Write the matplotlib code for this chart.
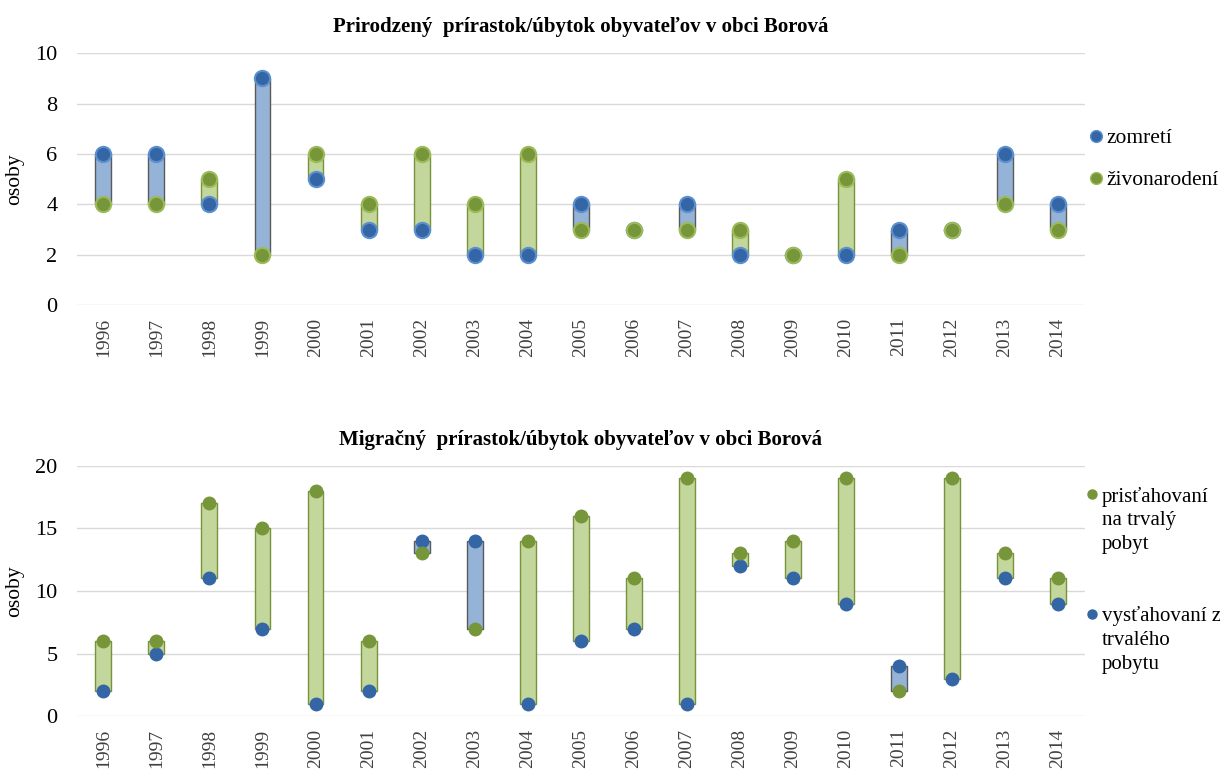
import numpy as np
import matplotlib
matplotlib.use("Agg")
import matplotlib.pyplot as plt
from matplotlib.lines import Line2D

plt.rcParams['font.family'] = ['Liberation Serif', 'DejaVu Serif']

years = [str(y) for y in range(1996, 2015)]

# natural change
zomreti = [6, 6, 4, 9, 5, 3, 3, 2, 2, 4, 3, 4, 2, 2, 2, 3, 3, 6, 4]
zivonarodeni = [4, 4, 5, 2, 6, 4, 6, 4, 6, 3, 3, 3, 3, 2, 5, 2, 3, 4, 3]

# migration
vystahovani = [2, 5, 11, 7, 1, 2, 14, 14, 1, 6, 7, 1, 12, 11, 9, 4, 3, 11, 9]
pristahovani = [6, 6, 17, 15, 18, 6, 13, 7, 14, 16, 11, 19, 13, 14, 19, 2, 19, 13, 11]

labels_top = ['zomretí', 'živonarodení']
labels_bottom = ['prisťahovaní\nna trvalý\npobyt', 'vysťahovaní z\ntrvalého\npobytu']

BLUE_BAR = '#95b3d7'
GREEN_BAR = '#c3d69b'
BLUE_DOT = '#3466a6'
GREEN_DOT = '#77963a'


def draw_panel(ax, blue, green, ymax, step, title, msize, ring):
    x = np.arange(len(years))
    blue = np.array(blue)
    green = np.array(green)
    lo = np.minimum(blue, green)
    hi = np.maximum(blue, green)
    up = green >= blue
    for i in range(len(x)):
        if hi[i] == lo[i]:
            ax.plot([x[i] - 0.15, x[i] + 0.15], [lo[i], lo[i]], color='#595959', lw=1, zorder=2)
            continue
        if up[i]:
            ax.bar(x[i], hi[i] - lo[i], bottom=lo[i], width=0.3, color=GREEN_BAR,
                   edgecolor='#77933c', linewidth=1, zorder=2)
        else:
            ax.bar(x[i], hi[i] - lo[i], bottom=lo[i], width=0.3, color=BLUE_BAR,
                   edgecolor='#5a5a5a', linewidth=1, zorder=2)
    if ring:
        ax.plot(x, blue, 'o', ms=msize, color=BLUE_DOT, mec='#5b8fd0', mew=1.5, zorder=3)
        ax.plot(x, green, 'o', ms=msize, color=GREEN_DOT, mec='#9bbb59', mew=1.5, zorder=3)
    else:
        ax.plot(x, blue, 'o', ms=msize, color=BLUE_DOT, mec=BLUE_DOT, zorder=3)
        ax.plot(x, green, 'o', ms=msize, color=GREEN_DOT, mec=GREEN_DOT, zorder=3)

    ax.set_xlim(-0.5, len(x) - 0.5)
    ax.set_ylim(0, ymax)
    ax.set_yticks(np.arange(0, ymax + 1, step))
    ax.set_xticks(x)
    ax.set_xticklabels(years, rotation=90, fontsize=14, color='#404040')
    ax.tick_params(axis='y', labelsize=16, length=0, pad=14)
    ax.tick_params(axis='x', length=0, pad=9)
    ax.grid(axis='y', color='#d9d9d9', lw=1)
    ax.set_axisbelow(True)
    for s in ax.spines.values():
        s.set_visible(False)
    ax.set_ylabel('osoby', fontsize=15.5, labelpad=8)
    ax.set_title(title, fontsize=15, fontweight='bold', pad=15)


fig = plt.figure(figsize=(12.2, 7.71), dpi=100)
ax1 = fig.add_axes([0.063, 0.604, 0.826, 0.327])
ax2 = fig.add_axes([0.063, 0.071, 0.826, 0.325])

draw_panel(ax1, zomreti, zivonarodeni, 10, 2,
           'Prirodzený  prírastok/úbytok obyvateľov v obci Borová', 11, True)
draw_panel(ax2, vystahovani, pristahovani, 20, 5,
           'Migračný  prírastok/úbytok obyvateľov v obci Borová', 9, False)

# legends drawn by hand so the dot sits on the first text line
W, H = 1220.0, 771.0
top_leg = [(136, BLUE_DOT, '#5b8fd0'), (178, GREEN_DOT, '#9bbb59')]
for (py, c, ec), lab in zip(top_leg, labels_top):
    fig.add_artist(Line2D([1096 / W], [1 - py / H], ls='', marker='o', ms=8.5,
                          color=c, mec=ec, transform=fig.transFigure))
    fig.text(1106 / W, 1 - py / H, lab, fontsize=15.5, va='center_baseline', ha='left')

bot_leg = [(494, GREEN_DOT), (614, BLUE_DOT)]
for (py, c), lab in zip(bot_leg, labels_bottom):
    fig.add_artist(Line2D([1092 / W], [1 - py / H], ls='', marker='o', ms=6.5,
                          color=c, mec=c, transform=fig.transFigure))
    for k, line in enumerate(lab.split('\n')):
        fig.text(1102 / W, 1 - (py + 24 * k) / H, line, fontsize=15,
                 va='center_baseline', ha='left')

fig.savefig('out.png', dpi=100)
